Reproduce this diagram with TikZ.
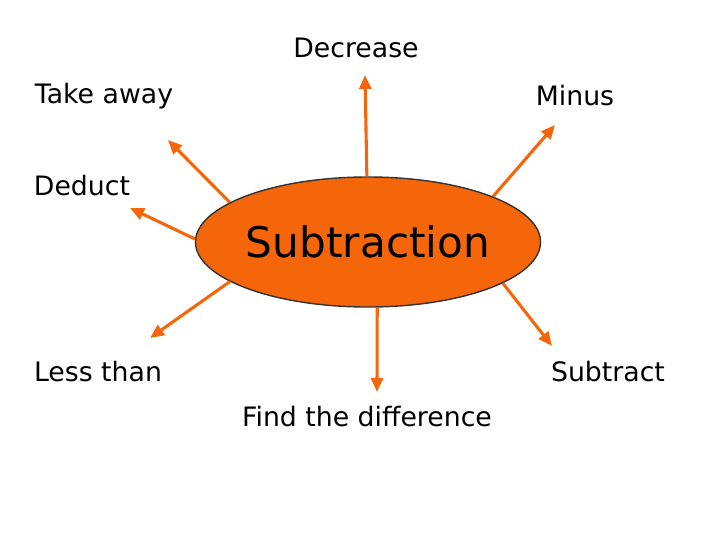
\documentclass[tikz,border=0pt]{standalone}
\usepackage{fontspec}
\setmainfont{DejaVu Sans}
\usetikzlibrary{shapes.geometric, arrows.meta, positioning, calc}
\definecolor{suborange}{RGB}{245,102,10}

\begin{document}
\begin{tikzpicture}[x=0.025cm, y=-0.025cm,
  lbl/.style={font=\fontsize{19}{22}\selectfont},
  spoke/.style={draw=suborange, line width=2.2pt, -{Triangle[length=3.5mm, width=3mm]}}]
\useasboundingbox (0,0) rectangle (720,540);

\node (sub)[ellipse, fill=suborange, draw=black!80, line width=1pt, minimum width=8.35cm, minimum height=3.25cm, inner sep=0pt, font=\fontsize{30}{34}\selectfont] at (368,242) {Subtraction};

\node (decrease)[lbl] at (356,48) {Decrease};
\node (takeaway)[lbl] at (104,96) {Take away};
\node (minus)[lbl] at (575,96) {Minus};
\node (deduct)[lbl] at (82,186) {Deduct};
\node (lessthan)[lbl] at (98,372) {Less than};
\node (subtract)[lbl] at (608,372) {Subtract};
\node (difference)[lbl] at (367,417) {Find the difference};

\coordinate (tUp) at (365,75);
\coordinate (tTR) at (555,125);
\coordinate (tTL) at (168,140);
\coordinate (tL) at (130,208);
\coordinate (tBL) at (150,338);
\coordinate (tB) at (377,392);
\coordinate (tBR) at (552,346);

\draw[spoke] (sub.91) -- (tUp);
\draw[spoke] (sub.20) -- (tTR);
\draw[spoke] (sub.164) -- (tTL);
\draw[spoke] (sub.179) -- (tL);
\draw[spoke] (sub.196) -- (tBL);
\draw[spoke] (sub.278) -- (tB);
\draw[spoke] (sub.343) -- (tBR);
\end{tikzpicture}
\end{document}
